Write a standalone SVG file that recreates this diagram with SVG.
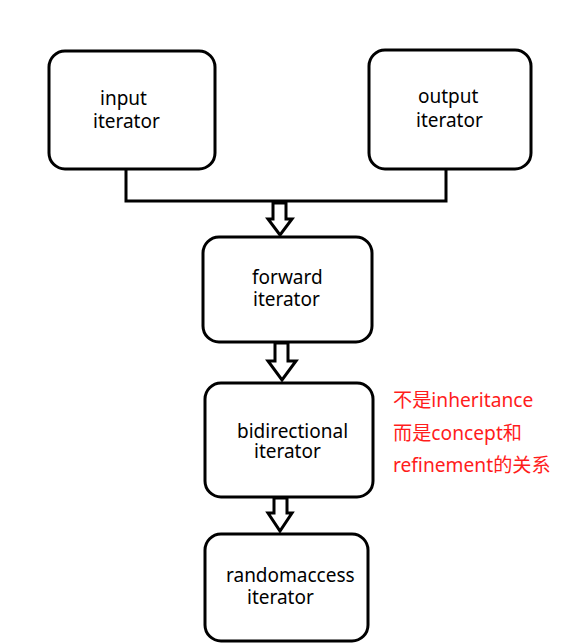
<svg xmlns="http://www.w3.org/2000/svg" width="569" height="644" viewBox="0 0 569 644">
<style>
.box{fill:#fff;stroke:#000;stroke-width:3}
.t{font-family:"Noto Sans","Noto Sans CJK SC",sans-serif;font-size:19px;fill:#000}
.r{font-family:"Noto Sans","Noto Sans CJK SC",sans-serif;font-size:19.2px;fill:#ff1c1c}
.c{fill:none;stroke:#000;stroke-width:3}
.a{fill:#fff;stroke:#000;stroke-width:3;stroke-linejoin:miter}
</style>
<rect width="569" height="644" fill="#fff"/>
<g id="connectors">
<polyline class="c" points="126,169 126,201 446,201 446,169"/>
<path class="a" d="M273,203 H286 V219 H292 L280,235 L268,219 H273 Z"/>
<path class="a" d="M275,343 H288 V361 H296 L282,380 L268,361 H275 Z"/>
<path class="a" d="M274,498 H287 V513 H292 L280,531 L268,513 H274 Z"/>
</g>
<g id="input">
<rect class="box" x="49" y="51" width="166" height="118" rx="16"/>
<text class="t" x="100" y="105">input</text>
<text class="t" x="93" y="128">iterator</text>
</g>
<g id="output">
<rect class="box" x="369" y="50" width="162" height="119" rx="16"/>
<text class="t" x="418" y="103">output</text>
<text class="t" x="416" y="127">iterator</text>
</g>
<g id="forward">
<rect class="box" x="203" y="237" width="169" height="105" rx="16"/>
<text class="t" x="252" y="284">forward</text>
<text class="t" x="253" y="306">iterator</text>
</g>
<g id="bidirectional">
<rect class="box" x="205" y="383" width="168" height="114" rx="16"/>
<text class="t" x="237" y="438">bidirectional</text>
<text class="t" x="254" y="458">iterator</text>
</g>
<g id="randomaccess">
<rect class="box" x="205" y="534" width="163" height="107" rx="16"/>
<text class="t" x="226" y="582">randomaccess</text>
<text class="t" x="247" y="604">iterator</text>
</g>
<g id="note">
<text class="r" x="393" y="407">不是inheritance</text>
<text class="r" x="393" y="440">而是concept和</text>
<text class="r" x="393" y="472">refinement的关系</text>
</g>
</svg>
